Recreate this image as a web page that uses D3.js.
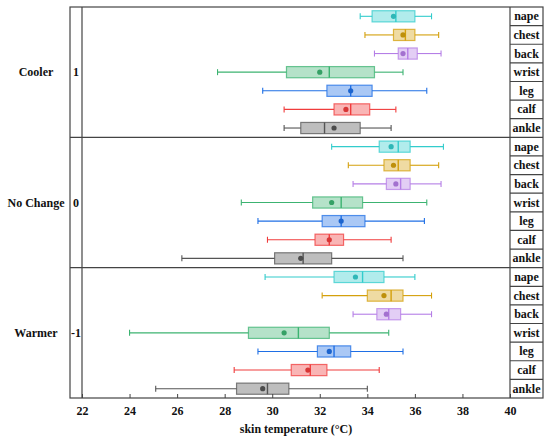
<!DOCTYPE html>
<html>
<head>
<meta charset="utf-8">
<script src="https://cdn.jsdelivr.net/npm/d3@7"></script>
<style>
    body { margin: 0; background: #fff; }
</style>
</head>
<body>
<div id="chart"></div>
<script>
// groups (top to bottom) and their codes
var groups = ['Cooler', 'No Change', 'Warmer'];
var groupCodes = ['1', '0', '-1'];
var sites = ['nape', 'chest', 'back', 'wrist', 'leg', 'calf', 'ankle'];
var siteColors = ['#33cccc', '#d4a00c', '#b57ee6', '#3cb371', '#1f6fe5', '#f03c3c', '#555555'];
var xTicks = [22, 24, 26, 28, 30, 32, 34, 36, 38, 40];

// box statistics, one row per group, one value per site
var minVals = [
    [33.7, 33.9, 34.3, 27.7, 29.6, 30.5, 30.5],
    [32.5, 33.2, 33.4, 28.7, 29.4, 29.8, 26.2],
    [29.7, 32.1, 33.4, 24.0, 29.4, 28.4, 25.1]
];
var q1Vals = [
    [34.2, 35.1, 35.3, 30.6, 32.3, 32.6, 31.2],
    [34.5, 34.7, 34.8, 31.7, 32.1, 31.8, 30.1],
    [32.6, 34.0, 34.4, 29.0, 31.9, 30.8, 28.5]
];
var medianVals = [
    [35.2, 35.6, 35.7, 32.4, 33.3, 33.3, 32.2],
    [35.3, 35.3, 35.4, 32.9, 32.9, 32.4, 31.3],
    [33.8, 35.0, 34.9, 31.1, 32.6, 31.6, 29.8]
];
var q3Vals = [
    [36.0, 36.0, 36.1, 34.3, 34.2, 34.1, 33.7],
    [35.8, 35.8, 35.8, 33.8, 33.9, 33.0, 32.5],
    [34.7, 35.5, 35.4, 32.4, 33.3, 32.3, 30.7]
];
var maxVals = [
    [36.7, 37.0, 37.1, 35.5, 36.5, 35.2, 35.0],
    [37.2, 37.0, 37.1, 36.5, 36.4, 35.0, 35.5],
    [36.0, 36.7, 36.7, 34.9, 35.5, 34.5, 34.0]
];
var meanVals = [
    [35.1, 35.5, 35.5, 32.0, 33.3, 33.1, 32.6],
    [35.0, 35.1, 35.2, 32.5, 32.9, 32.4, 31.2],
    [33.5, 34.7, 34.8, 30.5, 32.4, 31.5, 29.6]
];

var width = 550, height = 439;
var frame = { left: 70, codeRight: 82, plotRight: 510, right: 543, top: 7, bottom: 398 };
var serif = '"Liberation Serif", "Times New Roman", "DejaVu Serif", serif';

var svg = d3.select('#chart').append('svg')
    .attr('width', width)
    .attr('height', height)
    .attr('font-family', serif);

var x = d3.scaleLinear().domain([22, 40]).range([frame.codeRight, frame.plotRight]);
var yGroup = d3.scaleBand().domain(groups).range([frame.top, frame.bottom]);
var yRow = d3.scaleBand().domain(sites).range([0, yGroup.bandwidth()]);

var boxes = [];
groups.forEach(function (g, gi) {
    sites.forEach(function (s, si) {
        boxes.push({
            group: g, site: s, color: siteColors[si],
            min: minVals[gi][si], q1: q1Vals[gi][si], median: medianVals[gi][si],
            q3: q3Vals[gi][si], max: maxVals[gi][si], mean: meanVals[gi][si]
        });
    });
});

function rowY(d) {
    return yGroup(d.group) + yRow(d.site) + yRow.bandwidth() / 2;
}

function label(sel, size) {
    return sel.style('font-family', serif)
        .style('font-weight', 'bold')
        .style('font-size', size + 'px')
        .style('fill', '#111');
}

var boxH = yRow.bandwidth() * 0.6;
var capH = 6;

var marks = svg.append('g').selectAll('.box')
    .data(boxes)
    .enter().append('g')
    .attr('class', 'box');

// whiskers
marks.append('line')
    .attr('x1', function (d) { return x(d.min); })
    .attr('x2', function (d) { return x(d.q1); })
    .attr('y1', rowY).attr('y2', rowY)
    .style('stroke', function (d) { return d.color; })
    .style('stroke-width', 1.1);
marks.append('line')
    .attr('x1', function (d) { return x(d.q3); })
    .attr('x2', function (d) { return x(d.max); })
    .attr('y1', rowY).attr('y2', rowY)
    .style('stroke', function (d) { return d.color; })
    .style('stroke-width', 1.1);
['min', 'max'].forEach(function (k) {
    marks.append('line')
        .attr('x1', function (d) { return x(d[k]); })
        .attr('x2', function (d) { return x(d[k]); })
        .attr('y1', function (d) { return rowY(d) - capH / 2; })
        .attr('y2', function (d) { return rowY(d) + capH / 2; })
        .style('stroke', function (d) { return d.color; })
        .style('stroke-width', 1.1);
});

// box
marks.append('rect')
    .attr('x', function (d) { return x(d.q1); })
    .attr('y', function (d) { return rowY(d) - boxH / 2; })
    .attr('width', function (d) { return x(d.q3) - x(d.q1); })
    .attr('height', boxH)
    .style('fill', function (d) { return d.color; })
    .style('fill-opacity', 0.38)
    .style('stroke', function (d) { return d.color; })
    .style('stroke-opacity', 0.75)
    .style('stroke-width', 1.2);

// median
marks.append('line')
    .attr('x1', function (d) { return x(d.median); })
    .attr('x2', function (d) { return x(d.median); })
    .attr('y1', function (d) { return rowY(d) - boxH / 2; })
    .attr('y2', function (d) { return rowY(d) + boxH / 2; })
    .style('stroke', function (d) { return d.color; })
    .style('stroke-width', 1.4);

// mean
marks.append('circle')
    .attr('cx', function (d) { return x(d.mean); })
    .attr('cy', rowY)
    .attr('r', 2.6)
    .style('fill', function (d) { return d3.color(d.color).darker(0.3); });

// frame and grid of the table
var lines = svg.append('g').style('stroke', '#444').style('stroke-width', 1.2).style('fill', 'none');
lines.append('rect')
    .attr('x', frame.left).attr('y', frame.top)
    .attr('width', frame.right - frame.left).attr('height', frame.bottom - frame.top);
[frame.codeRight, frame.plotRight].forEach(function (px) {
    lines.append('line').attr('x1', px).attr('x2', px).attr('y1', frame.top).attr('y2', frame.bottom);
});
groups.slice(1).forEach(function (g) {
    lines.append('line')
        .attr('x1', frame.left).attr('x2', frame.right)
        .attr('y1', yGroup(g)).attr('y2', yGroup(g));
});
groups.forEach(function (g) {
    sites.slice(1).forEach(function (s) {
        lines.append('line')
            .attr('x1', frame.plotRight).attr('x2', frame.right)
            .attr('y1', yGroup(g) + yRow(s)).attr('y2', yGroup(g) + yRow(s));
    });
});

// site labels on the right
var siteLabels = [];
groups.forEach(function (g) {
    sites.forEach(function (s) { siteLabels.push({ group: g, site: s }); });
});
svg.selectAll('.siteLabel')
    .data(siteLabels)
    .enter().append('text')
    .attr('class', 'siteLabel')
    .attr('x', (frame.plotRight + frame.right) / 2)
    .attr('y', function (d) { return rowY(d) + 4; })
    .style('text-anchor', 'middle')
    .call(label, 12)
    .text(function (d) { return d.site; });

// group names and codes on the left
svg.selectAll('.groupLabel')
    .data(groups)
    .enter().append('text')
    .attr('class', 'groupLabel')
    .attr('x', 36)
    .attr('y', function (d) { return yGroup(d) + yGroup.bandwidth() / 2 + 4; })
    .style('text-anchor', 'middle')
    .call(label, 12)
    .text(function (d) { return d; });
svg.selectAll('.groupCode')
    .data(groups)
    .enter().append('text')
    .attr('class', 'groupCode')
    .attr('x', (frame.left + frame.codeRight) / 2)
    .attr('y', function (d) { return yGroup(d) + yGroup.bandwidth() / 2 + 4; })
    .style('text-anchor', 'middle')
    .call(label, 12)
    .text(function (d, i) { return groupCodes[i]; });

// x axis, ticks point inward
var xAxis = d3.axisBottom(x).tickValues(xTicks).tickSizeInner(-4).tickSizeOuter(0).tickPadding(8);
var axisG = svg.append('g')
    .attr('transform', 'translate(0,' + frame.bottom + ')')
    .call(xAxis)
    .attr('font-family', serif);
axisG.select('.domain').remove();
axisG.selectAll('.tick line').style('stroke', '#444');
axisG.selectAll('.tick text').call(label, 12);

svg.append('text')
    .attr('x', (frame.codeRight + frame.plotRight) / 2)
    .attr('y', 433)
    .style('text-anchor', 'middle')
    .call(label, 12)
    .text('skin temperature (°C)');
</script>
</body>
</html>
